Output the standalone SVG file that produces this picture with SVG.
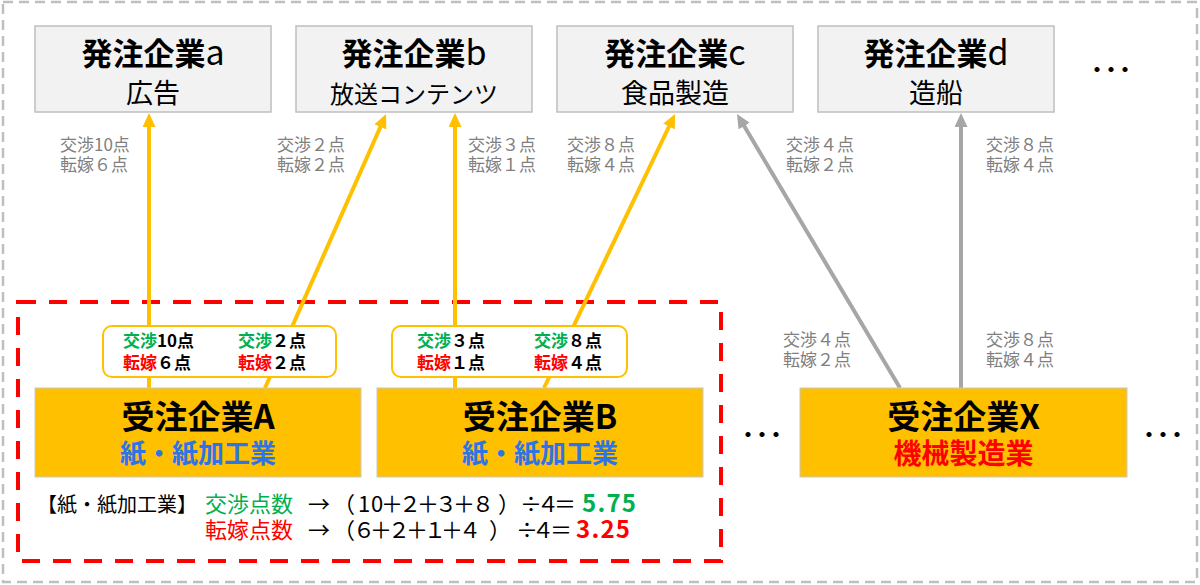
<svg xmlns="http://www.w3.org/2000/svg" width="1200" height="585" viewBox="0 0 1200 585">
<defs>
<style>
text{font-family:"Noto Sans CJK JP","Noto Sans",sans-serif}
.tb{fill:#f2f2f2;stroke:#bfbfbf;stroke-width:1.5}
.ttl{font-size:31px;font-weight:700;fill:#000;text-anchor:middle}
.lt{font-weight:400;font-size:34px}
.sub{font-size:27px;font-weight:400}
.lbl{font-size:17px;fill:#808080}
.yb{fill:#ffc000;stroke:#c8c8c8;stroke-width:1}
.ytl{font-size:33px;font-weight:700;fill:#000;text-anchor:middle}
.ysub{font-size:26px;fill:#2f73e8}
.sb{fill:#fff;stroke:#ffc000;stroke-width:2}
.st{font-size:17px;font-weight:700;fill:#000}
.ya{stroke:#ffc000;stroke-width:4;fill:none;marker-end:url(#ahy)}
.ga{stroke:#a6a6a6;stroke-width:4;fill:none;marker-end:url(#ahg)}
.dots{font-size:20px;font-weight:700;fill:#000;letter-spacing:-6px}
.fm{font-size:22px;fill:#000}
.g{fill:#00b050}
.r{fill:#ff0000}
.bn{font-weight:700;font-size:24px}
</style>
<marker id="ahy" markerUnits="userSpaceOnUse" markerWidth="14" markerHeight="13" refX="4" refY="6.5" orient="auto">
<path d="M0,0 L14,6.5 L0,13 z" fill="#ffc000"/>
</marker>
<marker id="ahg" markerUnits="userSpaceOnUse" markerWidth="14" markerHeight="13" refX="4" refY="6.5" orient="auto">
<path d="M0,0 L14,6.5 L0,13 z" fill="#a6a6a6"/>
</marker>
</defs>
<rect x="0" y="0" width="1200" height="585" fill="#fff"/>
<rect id="outer-frame" x="3" y="2" width="1194" height="580" fill="none" stroke="#bfbfbf" stroke-width="2.5" stroke-dasharray="10 6"/>
<rect id="group-frame" x="18" y="302" width="703" height="259" fill="none" stroke="#ff0000" stroke-width="4" stroke-dasharray="18 13"/>

<g id="connectors">
<line class="ya" x1="149" y1="388" x2="149" y2="123"/>
<line class="ya" x1="265" y1="388" x2="382" y2="123.2"/>
<line class="ya" x1="455" y1="388" x2="455" y2="123"/>
<line class="ya" x1="544" y1="388" x2="670.7" y2="123"/>
<line class="ga" x1="900" y1="388" x2="742.1" y2="122.6"/>
<line class="ga" x1="961" y1="388" x2="961" y2="123"/>
</g>

<g id="client-a">
<rect class="tb" x="35" y="26" width="236" height="86"/>
<text class="ttl"><tspan x="153" y="65">発注企業<tspan class="lt">a</tspan></tspan><tspan class="sub" x="153" y="103">広告</tspan></text>
</g>
<g id="client-b">
<rect class="tb" x="296" y="26" width="236" height="86"/>
<text class="ttl"><tspan x="414" y="65">発注企業<tspan class="lt">b</tspan></tspan><tspan class="sub" x="414" y="103" style="font-size:24px">放送コンテンツ</tspan></text>
</g>
<g id="client-c">
<rect class="tb" x="557" y="26" width="236" height="86"/>
<text class="ttl"><tspan x="675" y="65">発注企業<tspan class="lt">c</tspan></tspan><tspan class="sub" x="675" y="103">食品製造</tspan></text>
</g>
<g id="client-d">
<rect class="tb" x="818" y="26" width="236" height="86"/>
<text class="ttl"><tspan x="936" y="65">発注企業<tspan class="lt">d</tspan></tspan><tspan class="sub" x="936" y="103">造船</tspan></text>
</g>
<text id="dots-top" class="dots" x="1087" y="77">・・・</text>

<g id="edge-labels">
<text class="lbl"><tspan x="60" y="150.5">交渉10点</tspan><tspan x="60" y="170.5">転嫁６点</tspan></text>
<text class="lbl"><tspan x="277" y="150.5">交渉２点</tspan><tspan x="277" y="170.5">転嫁２点</tspan></text>
<text class="lbl"><tspan x="468" y="150.5">交渉３点</tspan><tspan x="468" y="170.5">転嫁１点</tspan></text>
<text class="lbl"><tspan x="567" y="150.5">交渉８点</tspan><tspan x="567" y="170.5">転嫁４点</tspan></text>
<text class="lbl"><tspan x="786" y="150.5">交渉４点</tspan><tspan x="786" y="170.5">転嫁２点</tspan></text>
<text class="lbl"><tspan x="986" y="150.5">交渉８点</tspan><tspan x="986" y="170.5">転嫁４点</tspan></text>
<text class="lbl"><tspan x="783" y="345.5">交渉４点</tspan><tspan x="783" y="365.5">転嫁２点</tspan></text>
<text class="lbl"><tspan x="986" y="345.5">交渉８点</tspan><tspan x="986" y="365.5">転嫁４点</tspan></text>
</g>

<g id="score-box-a">
<rect class="sb" x="103" y="326" width="233" height="51" rx="9"/>
<text class="st"><tspan x="123" y="346.5"><tspan class="g">交渉</tspan>10点</tspan><tspan x="123" y="368.5"><tspan class="r">転嫁</tspan>６点</tspan></text>
<text class="st"><tspan x="238" y="346.5"><tspan class="g">交渉</tspan>２点</tspan><tspan x="238" y="368.5"><tspan class="r">転嫁</tspan>２点</tspan></text>
</g>
<g id="score-box-b">
<rect class="sb" x="392" y="326" width="235" height="51" rx="9"/>
<text class="st"><tspan x="417" y="346.5"><tspan class="g">交渉</tspan>３点</tspan><tspan x="417" y="368.5"><tspan class="r">転嫁</tspan>１点</tspan></text>
<text class="st"><tspan x="534" y="346.5"><tspan class="g">交渉</tspan>８点</tspan><tspan x="534" y="368.5"><tspan class="r">転嫁</tspan>４点</tspan></text>
</g>

<g id="supplier-a">
<rect class="yb" x="35" y="388" width="326" height="89"/>
<text class="ytl"><tspan x="198" y="429">受注企業A</tspan><tspan class="ysub" x="198" y="463">紙・紙加工業</tspan></text>
</g>
<g id="supplier-b">
<rect class="yb" x="377" y="388" width="326" height="89"/>
<text class="ytl"><tspan x="540" y="429">受注企業B</tspan><tspan class="ysub" x="540" y="463">紙・紙加工業</tspan></text>
</g>
<g id="supplier-x">
<rect class="yb" x="800" y="388" width="327" height="89"/>
<text class="ytl"><tspan x="963.5" y="429">受注企業X</tspan><tspan class="ysub r" x="963.5" y="464" style="font-size:28px">機械製造業</tspan></text>
</g>
<text id="dots-left" class="dots" x="738" y="442">・・・</text>
<text id="dots-right" class="dots" x="1139" y="442">・・・</text>

<g id="formula">
<text class="fm"><tspan x="37" y="512" style="font-size:20px">【紙・紙加工業】</tspan><tspan class="g" x="205" y="512">交渉点数</tspan><tspan class="r" x="205" y="538">転嫁点数</tspan></text>
<text class="fm" text-anchor="middle"><tspan y="512" x="319 344 364 377 392 410 428 446 464 483 509 531 548 565">→（10＋２＋３＋８）÷４＝</tspan><tspan y="538" x="319 344 364 381 399 417 435 452 470 500 527 543 561">→（６＋２＋１＋４）÷４＝</tspan></text>
<text class="fm bn"><tspan class="g" x="582" y="512" textLength="54" lengthAdjust="spacing">5.75</tspan><tspan class="r" x="576" y="538" textLength="54" lengthAdjust="spacing">3.25</tspan></text>
</g>
</svg>
